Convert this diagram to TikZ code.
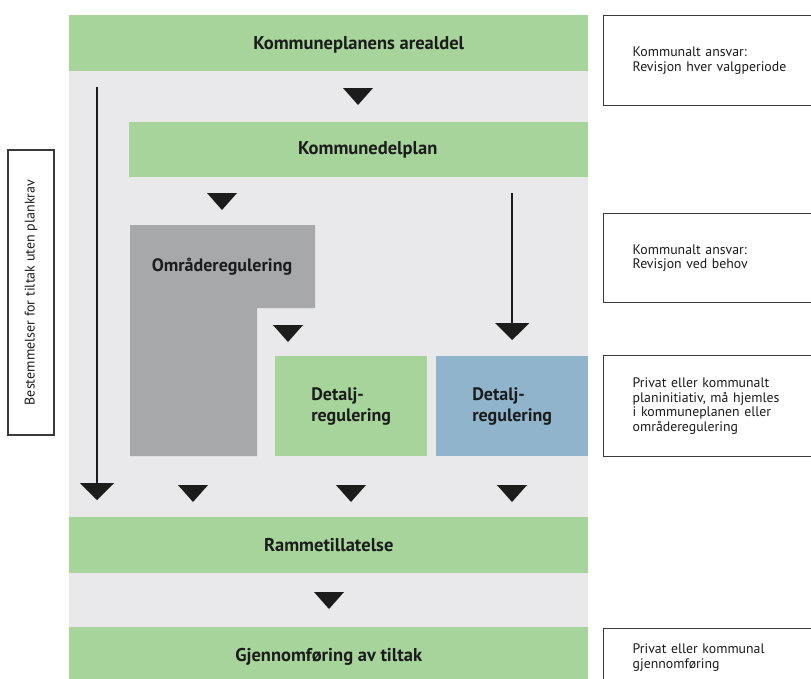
\documentclass[tikz,border=0pt]{standalone}
\usepackage{fontspec}
\setmainfont{PT Sans}
\usetikzlibrary{arrows.meta,positioning}
\definecolor{planGreen}{HTML}{A6D49B}
\definecolor{planGrey}{HTML}{E9E9EB}
\definecolor{areaGrey}{HTML}{A7A8AA}
\definecolor{planBlue}{HTML}{8FB4CC}
\definecolor{inkDark}{HTML}{1C1C1C}
\definecolor{edgeDark}{HTML}{3A3A3A}

\begin{document}
\begin{tikzpicture}[x=1pt,y=-1pt,
    bar/.style={fill=planGreen,inner sep=0pt,anchor=north west,minimum width=519pt,minimum height=56pt,text=inkDark,font=\bfseries\fontsize{18.5}{21}\selectfont},
    barlabel/.style={text=inkDark,font=\bfseries\fontsize{18.5}{21}\selectfont},
    cell/.style={inner sep=0pt,anchor=north west,minimum width=152pt,minimum height=100pt,text=inkDark,align=left,font=\bfseries\fontsize{18}{21}\selectfont},
    note/.style={draw=edgeDark,line width=1.4pt,fill=white,anchor=north west,inner xsep=29pt,inner ysep=0pt,text width=175pt,align=left,text=inkDark,font=\fontsize{13.8}{14.5}\selectfont},
    longarr/.style={-{Triangle[width=34pt,length=17pt]},line width=1.5pt,draw=inkDark}
]
\useasboundingbox (0,0) rectangle (811,678);
\clip (0,0) rectangle (811,678);

% grey band behind the plan levels
\fill[planGrey] (69,15) rectangle (588,678);

\node[bar,label={[barlabel,xshift=30pt,yshift=-2pt]center:Kommuneplanens arealdel}] (areal) at (69,15) {};
\node[bar,minimum width=459pt,minimum height=55pt,label={[barlabel,xshift=9pt]center:Kommunedelplan}] (delplan) at (129,122) {};

% omraderegulering, L-shaped
\fill[areaGrey] (130,225) -| (315,308) -| (257,456) -| cycle;
\node[text=inkDark,font=\bfseries\fontsize{18}{21}\selectfont] (omr) at (222,267) {Områderegulering};

\node[cell,fill=planGreen] (detGreen) at (275,356) {Detalj-\\regulering};
\node[cell,fill=planBlue] (detBlue) at (436,356) {Detalj-\\regulering};

\node[bar] (ramme) at (69,517) {Rammetillatelse};
\node[bar,minimum height=60pt] (gjennom) at (69,627) {Gjennomføring av tiltak};

% free-standing arrow heads
\foreach \x/\y in {358/88, 222/193, 288/325, 193/485, 351/485, 512/485, 329/592}
    \fill[inkDark] (\x-15,\y) -- (\x+15,\y) -- (\x,\y+17) -- cycle;

% long arrows
\coordinate (leftX) at (97,0);
\draw[longarr,shorten <=16pt,shorten >=17pt] (areal.south -| leftX) -- (ramme.north -| leftX);
\draw[longarr,shorten <=16pt,shorten >=16pt] (delplan.south -| detBlue) -- (detBlue.north);

% side notes
\node[note,minimum height=90pt] (noteA) at (603,15) {Kommunalt ansvar:\\Revisjon hver valgperiode};
\node[note,minimum height=89pt] (noteB) at (603,213) {Kommunalt ansvar:\\Revisjon ved behov};
\node[note,minimum height=101pt] (noteC) at (603,355) {Privat eller kommunalt\\planinitiativ, må hjemles\\i kommuneplanen eller\\områderegulering\\[6pt]};
\node[note,minimum height=58pt] (noteD) at (603,628) {Privat eller kommunal\\gjennomføring};

\node[draw=edgeDark,line width=1.4pt,rotate=90,minimum width=285pt,minimum height=46pt,inner sep=0pt,text=inkDark,font=\fontsize{14}{16}\selectfont] (rule) at (31,292.5) {Bestemmelser for tiltak uten plankrav};
\end{tikzpicture}
\end{document}
